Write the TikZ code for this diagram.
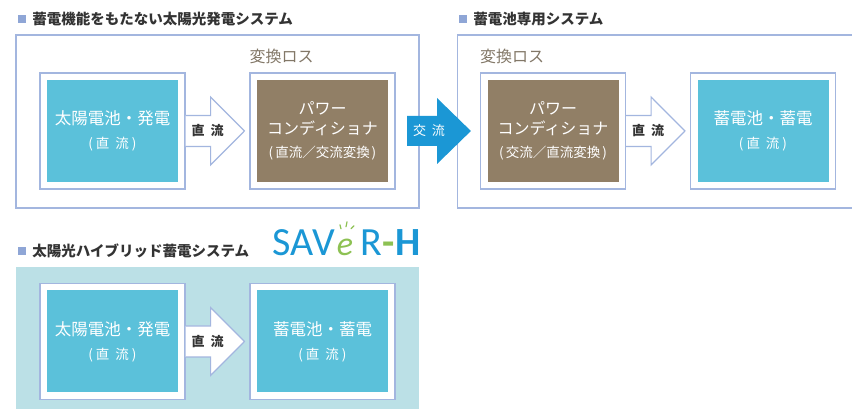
\documentclass[tikz,border=0pt]{standalone}
\usepackage{fontspec}
\setmainfont{Noto Sans CJK JP}
\newfontfamily\logofont{Carlito}
\usepackage{tikz}
\usetikzlibrary{positioning,calc}
\definecolor{lineblue}{HTML}{A3B6DF}
\definecolor{markblue}{HTML}{8FA6D6}
\definecolor{solarcyan}{HTML}{5BC1DA}
\definecolor{pcsbrown}{HTML}{917F66}
\definecolor{losstext}{HTML}{827767}
\definecolor{headtext}{HTML}{333333}
\definecolor{palecyan}{HTML}{BBE0E6}
\definecolor{acblue}{HTML}{1B97D5}
\definecolor{logogreen}{HTML}{8DC153}
\tikzstyle{panel}=[draw=lineblue, line width=1.2pt, minimum width=403pt, minimum height=173pt, inner sep=0pt]
\tikzstyle{frame}=[draw=lineblue, fill=white, line width=1.2pt, minimum width=145pt, minimum height=116pt, inner sep=0pt]
\tikzstyle{solar}=[fill=solarcyan, text=white, minimum width=131pt, minimum height=102pt, inner sep=0pt, align=center, font=\fontsize{16.5}{20}\selectfont]
\tikzstyle{pcs}=[fill=pcsbrown, text=white, minimum width=131pt, minimum height=102pt, inner sep=0pt, align=center, font=\fontsize{16}{20}\selectfont]
\tikzstyle{flow}=[draw=lineblue, fill=white, line width=1.2pt, line join=miter]
\tikzstyle{bullet}=[fill=markblue, minimum size=8pt, inner sep=0pt]
\tikzstyle{head}=[text=headtext, inner sep=0pt, font=\fontsize{14.5}{16}\selectfont\bfseries]
\tikzstyle{loss}=[text=losstext, inner sep=0pt, font=\fontsize{16}{18}\selectfont]
\tikzstyle{dc}=[text=headtext, inner sep=0pt, font=\fontsize{13}{15}\selectfont\bfseries]
\tikzstyle{logo}=[text=acblue, inner sep=0pt, text height=26pt, text depth=0pt, font=\fontsize{40}{40}\logofont]
\newcommand{\subline}[1]{{\fontsize{13.5}{16}\selectfont #1}}
\begin{document}
\begin{tikzpicture}[x=1pt,y=1pt,node distance=210pt]
\useasboundingbox (0,0) rectangle (852,409);

% upper left system
\node[bullet] (markA) at (22,390) {};
\node[head, right=6pt of markA] (headA) {蓄電機能をもたない太陽光発電システム};
\node[panel] (panelA) at (217.5,287.5) {};

\node[frame] (frameA) at (112.5,278) {};
\node[frame, right of = frameA] (frameB) {};
\node[loss, above right=8pt and 0pt of frameB.north west] (lossA) {変換ロス};
\draw[flow] ($(frameA.east)+(0,15.5)$) -- ++(25,0) -- ++(0,18.5) -- ($(frameB.west)+(-5,0)$) -- ($(frameA.east)+(25,-34)$) -- ++(0,18.5) -- ($(frameA.east)+(0,-15.5)$);
\node[dc] (dcA) at ($(frameA.east)+(22,0)$) {直\hspace{6pt}流};
\node[solar] (cellA) at (frameA) {太陽電池・発電\\[4pt]\subline{(\hspace{3pt}直\hspace{6pt}流\hspace{3pt})}};
\node[pcs] (pcsA) at (frameB) {パワー\\コンディショナ\\[3pt]\subline{(\hspace{2pt}直流／交流変換\hspace{2pt})}};

% upper right system
\node[bullet] (markB) at (463,390) {};
\node[head, right=6pt of markB] (headB) {蓄電池専用システム};
\draw[lineblue, line width=1.2pt] (852,374) -- (457.5,374) -- (457.5,201) -- (852,201);

\node[frame] (frameC) at (553,278) {};
\node[frame, right of = frameC] (frameD) {};
\node[loss, above right=8pt and 0pt of frameC.north west] (lossB) {変換ロス};
\draw[flow] ($(frameC.east)+(0,15.5)$) -- ++(25,0) -- ++(0,18.5) -- ($(frameD.west)+(-5,0)$) -- ($(frameC.east)+(25,-34)$) -- ++(0,18.5) -- ($(frameC.east)+(0,-15.5)$);
\node[dc] (dcB) at ($(frameC.east)+(22,0)$) {直\hspace{6pt}流};
\node[pcs] (pcsB) at (frameC) {パワー\\コンディショナ\\[3pt]\subline{(\hspace{2pt}交流／直流変換\hspace{2pt})}};
\node[solar] (cellB) at (frameD) {蓄電池・蓄電\\[4pt]\subline{(\hspace{3pt}直\hspace{6pt}流\hspace{3pt})}};

% AC arrow between the upper systems
\coordinate (acstart) at (407,278);
\fill[acblue] ($(acstart)+(0,15)$) -- ++(30,0) -- ++(0,18) -- ($(frameC.west)+(-9,0)$) -- ($(acstart)+(30,-33)$) -- ++(0,18) -- ($(acstart)+(0,-15)$) -- cycle;
\node[dc, text=white, font=\fontsize{13}{15}\selectfont] (acA) at ($(acstart)+(22,0)$) {交\hspace{6pt}流};

% lower system
\node[bullet] (markC) at (22,158) {};
\node[head, right=6pt of markC] (headC) {太陽光ハイブリッド蓄電システム};
\node[logo, anchor=center] (logoA) at (304,166) {SAV};
\node[logo, text=logogreen, font=\fontsize{34}{34}\logofont\itshape, right of = logoA, node distance=41pt] (logoB) {e};
\node[logo, right of = logoB, node distance=26pt] (logoC) {R};
\node[logo, font=\fontsize{40}{40}\logofont\bfseries, text=logogreen, right of = logoC, node distance=18pt] (logoD) {-};
\node[logo, font=\fontsize{40}{40}\logofont\bfseries, right of = logoD, node distance=19pt] (logoE) {H};
\draw[logogreen, line width=1.2pt, line cap=round] ($(logoB.north)+(-4,1)$) -- ++(-1,4);
\draw[logogreen, line width=1.2pt, line cap=round] ($(logoB.north)+(1,3)$) -- ++(1,5);
\draw[logogreen, line width=1.2pt, line cap=round] ($(logoB.north)+(6,1)$) -- ++(3,3);

\node[panel, draw=none, fill=palecyan, minimum height=142pt] (panelC) at (217.5,71) {};
\node[frame] (frameE) at (112.5,67.5) {};
\node[frame, right of = frameE] (frameF) {};
\draw[flow] ($(frameE.east)+(0,15.5)$) -- ++(25,0) -- ++(0,18.5) -- ($(frameF.west)+(-5,0)$) -- ($(frameE.east)+(25,-34)$) -- ++(0,18.5) -- ($(frameE.east)+(0,-15.5)$);
\node[dc] (dcC) at ($(frameE.east)+(22,0)$) {直\hspace{6pt}流};
\node[solar] (cellC) at (frameE) {太陽電池・発電\\[4pt]\subline{(\hspace{3pt}直\hspace{6pt}流\hspace{3pt})}};
\node[solar] (cellD) at (frameF) {蓄電池・蓄電\\[4pt]\subline{(\hspace{3pt}直\hspace{6pt}流\hspace{3pt})}};
\end{tikzpicture}
\end{document}
